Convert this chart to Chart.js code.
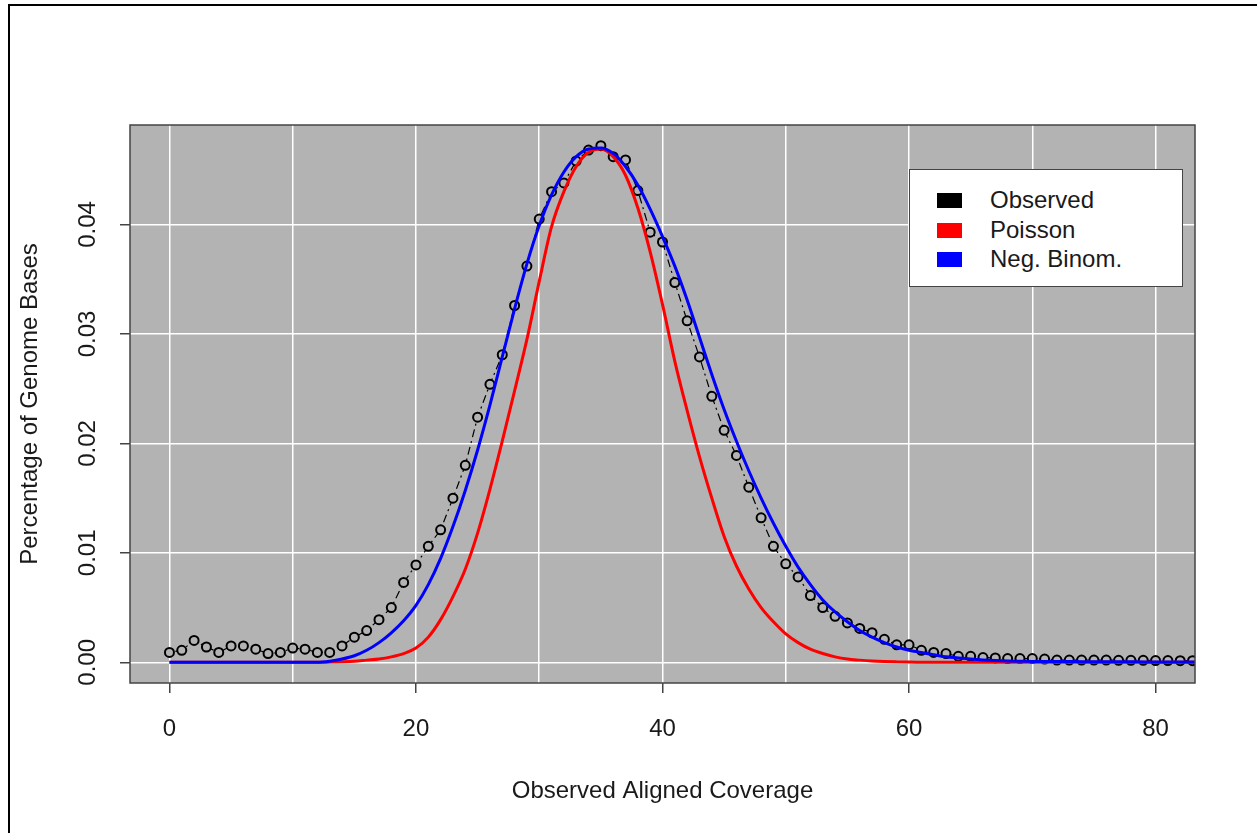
<!DOCTYPE html>
<html>
<head>
<meta charset="utf-8">
<script src="https://cdn.jsdelivr.net/npm/chart.js@4"></script>
<style>
  body { margin: 0; background: #fff; font-family: 'Liberation Sans', Arial, sans-serif; }
  #wrap { position: absolute; left: 0; top: 0; width: 1257px; height: 833px; }
  #frame { position: absolute; left: 8px; top: 4px; width: 1249px; height: 829px;
           border-top: 2px solid #000; border-left: 2px solid #000; box-sizing: border-box; }
  #legend { position: absolute; left: 909px; top: 169px; width: 274px; height: 118px;
            background: #fff; border: 1.5px solid #444; box-sizing: border-box; }
  .item { position: absolute; left: 0; height: 30px; width: 100%; }
  .sw { position: absolute; left: 27px; top: 8px; width: 25px; height: 15px; }
  .lab { position: absolute; left: 80px; top: 0; font-size: 24px; line-height: 30px; color: #1a1a1a; white-space: nowrap; }
</style>
</head>
<body>
<div id="wrap">
  <canvas id="chart" width="1257" height="833"></canvas>
  <div id="frame"></div>
  <div id="legend"></div>
</div>
<script>
// coverage values 0..84
const coverage = [0,1,2,3,4,5,6,7,8,9,10,11,12,13,14,15,16,17,18,19,20,21,22,23,24,25,26,27,28,29,
  30,31,32,33,34,35,36,37,38,39,40,41,42,43,44,45,46,47,48,49,50,51,52,53,54,55,56,57,58,59,
  60,61,62,63,64,65,66,67,68,69,70,71,72,73,74,75,76,77,78,79,80,81,82,83,84];

const observed = [0.0009,0.0011,0.0020,0.0014,0.0009,0.0015,0.0015,0.0012,0.0008,0.0009,
  0.0013,0.0012,0.0009,0.0009,0.0015,0.0023,0.0029,0.0039,0.0050,0.0073,
  0.0089,0.0106,0.0121,0.0150,0.0180,0.0224,0.0254,0.0281,0.0326,0.0362,
  0.0405,0.0430,0.0438,0.0458,0.0468,0.0472,0.0462,0.0459,0.0431,0.0393,
  0.0384,0.0347,0.0312,0.0279,0.0243,0.0212,0.0189,0.0160,0.0132,0.0106,
  0.0090,0.0078,0.0061,0.0050,0.0042,0.0036,0.0031,0.0027,0.0021,0.0016,
  0.0016,0.0011,0.0009,0.0008,0.00055,0.00055,0.00043,0.0004,0.00034,0.00034,
  0.00034,0.0003,0.0002,0.0002,0.0002,0.0002,0.0002,0.00018,0.00018,0.00018,
  0.00016,0.00016,0.00015,0.00015,0.00015];

const poisson = [0,0,0,0,0,0,0,0,0,0,
  0,0,0,0.00002,0.00005,0.0001,0.0002,0.0003,0.0005,0.0008,
  0.0013,0.0023,0.0039,0.0060,0.0085,0.0118,0.0158,0.0202,0.0248,0.0295,
  0.0348,0.0398,0.0430,0.0453,0.0466,0.0469,0.0462,0.0445,0.0415,0.0375,
  0.0327,0.0275,0.0230,0.0188,0.0150,0.0115,0.0088,0.0067,0.0050,0.0037,
  0.0026,0.0018,0.0012,0.0008,0.0005,0.0003,0.0002,0.00012,0.00007,0.00004,
  0.00002,0.00001,0,0,0,0,0,0,0,0,
  0,0,0,0,0,0,0,0,0,0,
  0,0,0,0,0];

const negBinom = [0,0,0,0,0,0,0,0,0,0,
  0,0,0,0.0001,0.0003,0.0006,0.0011,0.0018,0.0027,0.0038,
  0.0052,0.0071,0.0095,0.0124,0.0157,0.0194,0.0235,0.0279,0.0323,0.0364,
  0.0399,0.0427,0.0448,0.0462,0.0469,0.0470,0.0465,0.0453,0.0436,0.0414,
  0.0389,0.0362,0.0331,0.0297,0.0263,0.0231,0.0202,0.0175,0.0150,0.0127,
  0.0106,0.0087,0.0071,0.0057,0.0046,0.0037,0.0029,0.0023,0.0018,0.0014,
  0.0011,0.0009,0.0007,0.0005,0.0004,0.0003,0.00022,0.00016,0.00012,0.0001,
  0.00008,0.00008,0.00007,0.00007,0.00006,0.00006,0.00005,0.00005,0.00005,0.00004,
  0.00004,0.00004,0.00003,0.00003,0.00003];

const xTicks = [0, 20, 40, 60, 80];
const yTicks = ["0.00", "0.01", "0.02", "0.03", "0.04"];

const PLOT_BG = '#b3b3b3';
const INK = '#1a1a1a';

Chart.defaults.font.family = "'Liberation Sans', Arial, sans-serif";
Chart.defaults.font.size = 24;
Chart.defaults.color = INK;

const toXY = ys => coverage.map((x, i) => ({ x: x, y: ys[i] }));

// gray panel behind the grid + the box round it
const panel = {
  id: 'panel',
  beforeDraw(chart) {
    const { ctx, chartArea: a } = chart;
    ctx.save();
    ctx.fillStyle = PLOT_BG;
    ctx.fillRect(a.left, a.top, a.right - a.left, a.bottom - a.top);
    ctx.restore();
  },
  afterDatasetsDraw(chart) {
    const { ctx, chartArea: a } = chart;
    ctx.save();
    ctx.strokeStyle = '#444';
    ctx.lineWidth = 1.5;
    ctx.strokeRect(a.left, a.top, a.right - a.left, a.bottom - a.top);
    ctx.restore();
  }
};

const xMin = -3.2, xMax = 83.2;
const yMin = -0.00189, yMax = 0.04909;

const chart = new Chart(document.getElementById('chart'), {
  type: 'line',
  data: {
    datasets: [
      {
        label: 'Neg. Binom.',
        data: toXY(negBinom),
        borderColor: '#0000ff',
        backgroundColor: '#0000ff',
        borderWidth: 3,
        pointRadius: 0,
        cubicInterpolationMode: 'monotone',
        clip: 0,
        order: 1
      },
      {
        label: 'Poisson',
        data: toXY(poisson),
        borderColor: '#ff0000',
        backgroundColor: '#ff0000',
        borderWidth: 3,
        pointRadius: 0,
        cubicInterpolationMode: 'monotone',
        clip: 0,
        order: 2
      },
      {
        label: 'Observed',
        data: toXY(observed),
        borderColor: '#000',
        backgroundColor: '#000',
        borderWidth: 1.2,
        borderDash: [2, 4, 8, 4],
        pointRadius: 4.5,
        pointBorderWidth: 2,
        pointBorderColor: '#000',
        pointBackgroundColor: PLOT_BG,
        tension: 0,
        clip: 0,
        order: 3
      }
    ]
  },
  options: {
    responsive: false,
    animation: false,
    devicePixelRatio: 1,
    layout: { padding: { left: 0, top: 125, right: 62, bottom: 0 } },
    plugins: { legend: { display: false }, tooltip: { enabled: false } },
    scales: {
      // white grid every 10
      x: {
        type: 'linear', position: 'bottom', min: xMin, max: xMax,
        ticks: { display: false, stepSize: 10, includeBounds: false },
        grid: { color: '#fff', lineWidth: 1.5, drawTicks: false },
        border: { display: false },
        afterFit: s => { s.height = 0; }
      },
      // labelled ticks every 20
      x2: {
        type: 'linear', position: 'bottom', min: xMin, max: xMax,
        afterBuildTicks: s => { s.ticks = xTicks.map(v => ({ value: v })); },
        ticks: { padding: 22, color: INK, maxRotation: 0 },
        grid: { drawOnChartArea: false, color: '#444', lineWidth: 1.5, tickLength: 10 },
        border: { display: false },
        title: { display: true, text: 'Observed Aligned Coverage', color: INK, padding: { bottom: 27 } },
        afterFit: s => { s.height = 150; }
      },
      y: {
        type: 'linear', position: 'left', min: yMin, max: yMax,
        ticks: { display: false, stepSize: 0.01, includeBounds: false },
        grid: { color: '#fff', lineWidth: 1.5, drawTicks: false },
        border: { display: false },
        afterFit: s => { s.width = 0; }
      },
      y2: {
        type: 'linear', position: 'left', min: yMin, max: yMax,
        afterBuildTicks: s => { s.ticks = yTicks.map(v => ({ value: parseFloat(v) })); },
        ticks: {
          callback: (v, i) => yTicks[i],
          minRotation: 90, maxRotation: 90, crossAlign: 'center', padding: 8, color: INK
        },
        grid: { drawOnChartArea: false, color: '#444', lineWidth: 1.5, tickLength: 10 },
        border: { display: false },
        title: { display: true, text: 'Percentage of Genome Bases', color: INK, padding: { top: 15.6 } },
        afterFit: s => { s.width = 130; }
      }
    }
  },
  plugins: [panel]
});

// legend box, built from the datasets (R order: Observed, Poisson, Neg. Binom.)
const legendEl = document.getElementById('legend');
chart.data.datasets.slice().reverse().forEach((ds, i) => {
  const item = document.createElement('div');
  item.className = 'item';
  item.style.top = (15 + i * 29.5) + 'px';
  item.innerHTML = '<span class="sw" style="background:' + ds.backgroundColor + '"></span>' +
                   '<span class="lab">' + ds.label + '</span>';
  legendEl.appendChild(item);
});
</script>
</body>
</html>
